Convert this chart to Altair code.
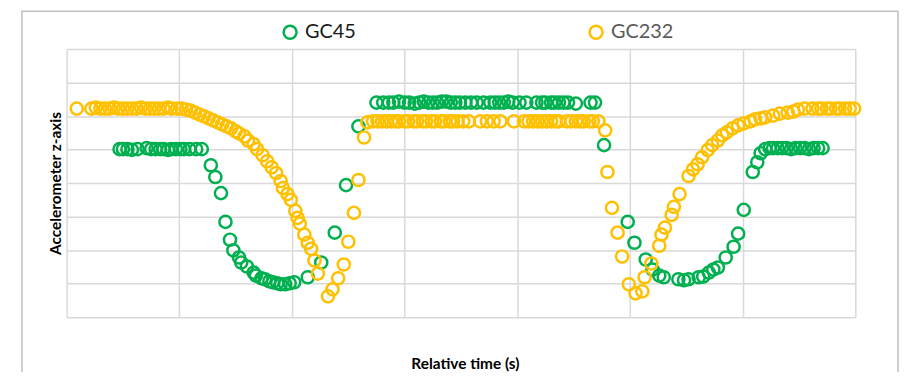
import altair as alt
import pandas as pd

# ---- data (x: relative time, grid units; y: accelerometer z, grid units)
gc45_x = [0.47, 0.50, 0.54, 0.58, 0.63, 0.71, 0.75, 0.79, 0.83, 0.86, 0.90, 0.93, 0.97, 1.01, 1.04, 1.09, 1.15, 1.20,
          1.28, 1.32, 1.37, 1.41, 1.45, 1.48, 1.53, 1.55, 1.60, 1.66, 1.68, 1.73, 1.76, 1.80, 1.83, 1.87, 1.90, 1.94,
          1.98, 2.02, 2.14, 2.26, 2.38, 2.48, 2.59,
          2.75, 2.81, 2.86, 2.90, 2.95, 3.00, 3.04, 3.09, 3.13, 3.17, 3.21, 3.25, 3.29, 3.33, 3.37, 3.41, 3.45, 3.49,
          3.54, 3.59, 3.64, 3.70, 3.76, 3.80, 3.84, 3.88, 3.92, 3.96, 4.02, 4.08, 4.17, 4.22, 4.25, 4.30, 4.33, 4.37,
          4.41, 4.45, 4.52, 4.65, 4.69,
          4.77, 4.98, 5.04, 5.14, 5.20, 5.26, 5.30, 5.43, 5.48, 5.52, 5.61, 5.65, 5.70, 5.74, 5.78, 5.85, 5.92, 5.96,
          6.01, 6.09, 6.13, 6.16, 6.20,
          6.24, 6.27, 6.31, 6.35, 6.39, 6.43, 6.47, 6.51, 6.55, 6.59, 6.63, 6.67, 6.71]
gc45_y = [5.01, 5.01, 5.01, 4.99, 5.01, 5.04, 5.01, 5.01, 5.01, 5.01, 4.99, 5.01, 5.01, 5.01, 5.01, 5.01, 5.01, 5.01,
          4.53, 4.18, 3.70, 2.84, 2.31, 1.99, 1.78, 1.63, 1.51, 1.33, 1.24, 1.16, 1.13, 1.07, 1.04, 1.01, 0.98, 0.98,
          1.01, 1.04, 1.19, 1.63, 2.52, 3.94, 5.69,
          6.40, 6.40, 6.40, 6.40, 6.43, 6.40, 6.40, 6.37, 6.40, 6.43, 6.40, 6.40, 6.40, 6.43, 6.43, 6.40, 6.40, 6.40,
          6.40, 6.40, 6.40, 6.40, 6.40, 6.40, 6.40, 6.40, 6.43, 6.40, 6.40, 6.40, 6.40, 6.40, 6.40, 6.40, 6.40, 6.40,
          6.40, 6.40, 6.37, 6.40, 6.40,
          5.13, 2.84, 2.22, 1.72, 1.42, 1.24, 1.19, 1.13, 1.10, 1.13, 1.19, 1.21, 1.33, 1.42, 1.48, 1.78, 2.10, 2.49,
          3.20, 4.33, 4.62, 4.89, 5.01,
          5.04, 5.04, 5.04, 5.04, 5.04, 5.01, 5.04, 5.04, 5.04, 5.01, 5.04, 5.04, 5.04]

gc232_x = [0.09, 0.22, 0.26, 0.30, 0.34, 0.38, 0.42, 0.46, 0.50, 0.54, 0.58, 0.62, 0.66, 0.70, 0.74, 0.78, 0.82,
           0.86, 0.90, 0.93, 0.98,
           1.02, 1.06, 1.10, 1.14, 1.18, 1.22, 1.26, 1.30, 1.34, 1.38, 1.42, 1.46, 1.50, 1.53, 1.58, 1.61, 1.66,
           1.69, 1.74, 1.78, 1.82, 1.86, 1.90, 1.92, 1.96, 1.99, 2.03, 2.05, 2.07, 2.11, 2.14, 2.17, 2.20, 2.23,
           2.32, 2.36, 2.41, 2.46, 2.50, 2.55, 2.59, 2.64, 2.67,
           2.72, 2.76, 2.80, 2.84, 2.88, 2.92, 2.95, 3.00, 3.03, 3.08, 3.11, 3.16, 3.19, 3.24, 3.27, 3.32, 3.35,
           3.40, 3.43, 3.47, 3.52, 3.57, 3.67, 3.73, 3.79, 3.85, 3.97, 4.06, 4.10, 4.14, 4.18, 4.22, 4.26, 4.30,
           4.34, 4.37, 4.44, 4.48, 4.52, 4.56, 4.59, 4.64, 4.67, 4.72,
           4.78, 4.80, 4.84, 4.89, 4.93, 4.99, 5.05, 5.11, 5.13, 5.19, 5.26, 5.28, 5.31, 5.37, 5.39, 5.44, 5.52,
           5.56, 5.60, 5.64, 5.69, 5.73, 5.78, 5.82, 5.86, 5.91, 5.96, 6.01, 6.07, 6.11, 6.16, 6.20, 6.27, 6.33,
           6.40, 6.45, 6.49, 6.55, 6.62, 6.67, 6.70, 6.75, 6.78, 6.83, 6.86, 6.91, 6.95, 6.99]
gc232_y = [6.22, 6.22, 6.25, 6.22, 6.22, 6.22, 6.25, 6.22, 6.22, 6.22, 6.22, 6.22, 6.25, 6.22, 6.22, 6.22, 6.22,
           6.22, 6.25, 6.22, 6.22,
           6.22, 6.19, 6.16, 6.10, 6.04, 5.99, 5.93, 5.87, 5.81, 5.75, 5.69, 5.63, 5.54, 5.48, 5.39, 5.27, 5.16,
           5.01, 4.83, 4.65, 4.47, 4.30, 4.06, 3.85, 3.67, 3.50, 3.17, 2.96, 2.79, 2.46, 2.22, 2.04, 1.69, 1.30,
           0.62, 0.83, 1.16, 1.57, 2.25, 3.11, 4.09, 5.36, 5.81,
           5.84, 5.84, 5.84, 5.84, 5.84, 5.84, 5.84, 5.84, 5.84, 5.84, 5.84, 5.84, 5.84, 5.84, 5.84, 5.84, 5.84,
           5.84, 5.84, 5.84, 5.84, 5.84, 5.84, 5.84, 5.84, 5.84, 5.84, 5.84, 5.84, 5.84, 5.84, 5.84, 5.84, 5.84,
           5.84, 5.84, 5.84, 5.84, 5.84, 5.84, 5.84, 5.84, 5.84, 5.84,
           5.57, 4.33, 3.26, 2.52, 1.81, 0.98, 0.71, 0.77, 1.19, 1.60, 2.13, 2.46, 2.67, 3.05, 3.29, 3.67, 4.21,
           4.41, 4.56, 4.77, 4.98, 5.13, 5.27, 5.42, 5.51, 5.63, 5.72, 5.78, 5.84, 5.90, 5.93, 5.96, 6.01, 6.07,
           6.10, 6.13, 6.19, 6.22, 6.22, 6.22, 6.22, 6.22, 6.22, 6.22, 6.22, 6.22, 6.22, 6.22]

series_names = ["GC45", "GC232"]
series_colors = ["#00B050", "#FFC000"]
x_grid = [0, 1, 2, 3, 4, 5, 6, 7]
y_grid = [0, 1, 2, 3, 4, 5, 6, 7, 8]

df = pd.concat([
    pd.DataFrame({"t": gc45_x, "z": gc45_y, "series": series_names[0]}),
    pd.DataFrame({"t": gc232_x, "z": gc232_y, "series": series_names[1]}),
], ignore_index=True)

FONT = "Lato"
GRID = "#d9d9d9"

points = alt.Chart(df).mark_point(filled=False, size=150, strokeWidth=2.5, opacity=1).encode(
    x=alt.X("t:Q", scale=alt.Scale(domain=[0, 7], nice=False, zero=False),
            axis=alt.Axis(values=x_grid, labels=False, ticks=False, domain=False, grid=True,
                          gridColor=GRID, gridWidth=1.5, title="Relative time (s)",
                          titleX=401, titleY=47, titleAlign="center", titleBaseline="middle",
                          titleFont=FONT, titleFontSize=15.5, titleFontWeight="bold", titleColor="#000000")),
    y=alt.Y("z:Q", scale=alt.Scale(domain=[0, 8], nice=False, zero=False),
            axis=alt.Axis(values=y_grid, labels=False, ticks=False, domain=False, grid=True,
                          gridColor=GRID, gridWidth=1.5, title="Accelerometer z-axis",
                          titleX=-11, titleY=135, titleAngle=270, titleAlign="center", titleBaseline="middle",
                          titleFont=FONT, titleFontSize=15.5, titleFontWeight="bold", titleColor="#000000")),
    color=alt.Color("series:N", sort=series_names,
                    scale=alt.Scale(domain=series_names, range=series_colors),
                    legend=alt.Legend(orient="none", legendX=215, legendY=-27, direction="horizontal",
                                      title=None, symbolType="circle", symbolSize=170, symbolStrokeWidth=2.5,
                                      labelFont=FONT, labelFontSize=20, labelOffset=5, columnPadding=229,
                                      padding=0,
                                      labelColor=alt.ExprRef(expr="datum.label === 'GC45' ? '#1a1a1a' : '#595959'"))),
)

frame = alt.Chart(pd.DataFrame({"f": [0]})).mark_rect(fillOpacity=0, stroke="#bfbfbf", strokeWidth=1.5).encode(
    x=alt.value(-45), x2=alt.value(837), y=alt.value(-38), y2=alt.value(420)
)

chart = alt.layer(frame, points).properties(
    width=794, height=270,
    padding={"left": 59, "top": 40, "right": 44, "bottom": 54},
    autosize=alt.AutoSizeParams(type="none"),
    background="white",
).configure_view(stroke=None)

chart.save("out.html", embed_options={"renderer": "svg", "actions": False})
